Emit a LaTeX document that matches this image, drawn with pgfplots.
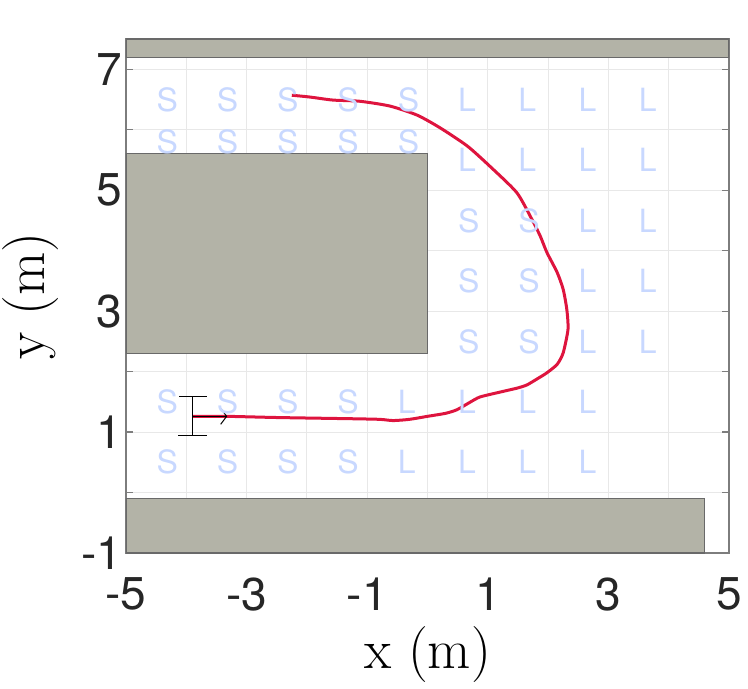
\documentclass[border=0pt]{standalone}
\usepackage{pgfplots}
\pgfplotsset{compat=1.18}
\usetikzlibrary{arrows.meta}
\usepackage{fontspec}
\newfontfamily\hel{TeX Gyre Heros}
\definecolor{obst}{RGB}{179,179,167}
\definecolor{obstedge}{RGB}{105,105,105}
\definecolor{traj}{RGB}{222,20,62}
\definecolor{lblue}{RGB}{200,216,255}
\definecolor{gridgray}{RGB}{232,232,232}
\definecolor{axgray}{RGB}{125,125,125}

\pgfplotstableread{
x y t
-4.5 6.5 S
-3.5 6.5 S
-2.5 6.5 S
-1.5 6.5 S
-0.5 6.5 S
0.5 6.5 L
1.5 6.5 L
2.5 6.5 L
3.5 6.5 L
-4.5 5.8 S
-3.5 5.8 S
-2.5 5.8 S
-1.5 5.8 S
-0.5 5.8 S
0.5 5.5 L
1.5 5.5 L
2.5 5.5 L
3.5 5.5 L
0.5 4.5 S
1.5 4.5 S
2.5 4.5 L
3.5 4.5 L
0.5 3.5 S
1.5 3.5 S
2.5 3.5 L
3.5 3.5 L
0.5 2.5 S
1.5 2.5 S
2.5 2.5 L
3.5 2.5 L
-4.5 1.5 S
-3.5 1.5 S
-2.5 1.5 S
-1.5 1.5 S
-0.5 1.5 L
0.5 1.5 L
1.5 1.5 L
2.5 1.5 L
-4.5 0.5 S
-3.5 0.5 S
-2.5 0.5 S
-1.5 0.5 S
-0.5 0.5 L
0.5 0.5 L
1.5 0.5 L
2.5 0.5 L
}\cells

\begin{document}
\begin{tikzpicture}
\begin{axis}[
  scale only axis, width=301.5pt, height=257pt,
  xmin=-5, xmax=5, ymin=-1, ymax=7.5,
  xtick={-5,...,5}, xticklabels={-5,,-3,,-1,,1,,3,,5},
  ytick={-1,...,7}, yticklabels={-1,,1,,3,,5,,7},
  grid=major, major grid style={gridgray, line width=0.5pt},
  axis line style={axgray, line width=0.7pt},
  tick style={axgray, line width=0.6pt},
  tick align=inside, major tick length=3.5pt,
  ticklabel style={font=\hel\fontsize{23}{23}\selectfont, text=black!85},
  xticklabel style={yshift=-9pt},
  yticklabel style={xshift=1.5pt},
  xlabel={x (m)}, ylabel={y (m)},
  label style={font=\fontsize{28}{30}\selectfont},
  xlabel style={at={(axis description cs:0.5,-0.1975)}, anchor=center},
  ylabel style={at={(axis description cs:-0.1575,0.5)}, anchor=center},
]
% obstacles
\addplot[fill=obst, draw=obstedge, line width=0.6pt] coordinates {(-5,7.2) (5,7.2) (5,7.5) (-5,7.5)} -- cycle;
\addplot[fill=obst, draw=obstedge, line width=0.6pt] coordinates {(-5,2.3) (0,2.3) (0,5.6) (-5,5.6)} -- cycle;
\addplot[fill=obst, draw=obstedge, line width=0.6pt] coordinates {(-5,-1) (4.6,-1) (4.6,-0.1) (-5,-0.1)} -- cycle;
% cell letters
\addplot[only marks, mark=none, nodes near coords, point meta=explicit symbolic,
  every node near coord/.style={anchor=west, inner sep=0pt, text=lblue, font=\hel\fontsize{16}{16}\selectfont}]
  table[x=x, y=y, meta=t] {\cells};
% trajectory
\addplot[traj, line width=1.5pt, smooth, tension=0.4] coordinates {
(-3.89,1.26) (-3.33,1.26) (-2.48,1.24) (-1.24,1.22) (-0.79,1.21) (-0.57,1.19)
(-0.3,1.21) (0.0,1.26) (0.3,1.31) (0.49,1.37) (0.7,1.49) (0.87,1.58) (1.2,1.66)
(1.5,1.73) (1.65,1.78) (1.82,1.88) (1.98,1.98) (2.15,2.12) (2.25,2.31) (2.33,2.70)
(2.31,3.03) (2.25,3.36) (2.15,3.64) (1.98,3.97) (1.87,4.24) (1.73,4.52) (1.48,4.96)
(1.04,5.39) (0.66,5.73) (0.21,6.03) (-0.17,6.24) (-0.62,6.39) (-1.12,6.47)
(-1.57,6.49) (-1.95,6.54) (-2.25,6.57)};
% robot marker
\addplot[black, line width=0.5pt] coordinates {(-3.89,0.94) (-3.89,1.59)};
\addplot[black, line width=0.5pt] coordinates {(-4.12,1.59) (-3.65,1.59)};
\addplot[black, line width=0.5pt] coordinates {(-4.13,0.94) (-3.66,0.94)};
\addplot[black, line width=0.5pt, -{Straight Barb[length=3pt,width=8pt]}] coordinates {(-3.89,1.26) (-3.32,1.26)};
\end{axis}
\pgfresetboundingbox
\path[use as bounding box] ([xshift=-63pt,yshift=-68pt]current axis.south west) rectangle ([xshift=9.5pt,yshift=19.5pt]current axis.north east);
\end{tikzpicture}
\end{document}
